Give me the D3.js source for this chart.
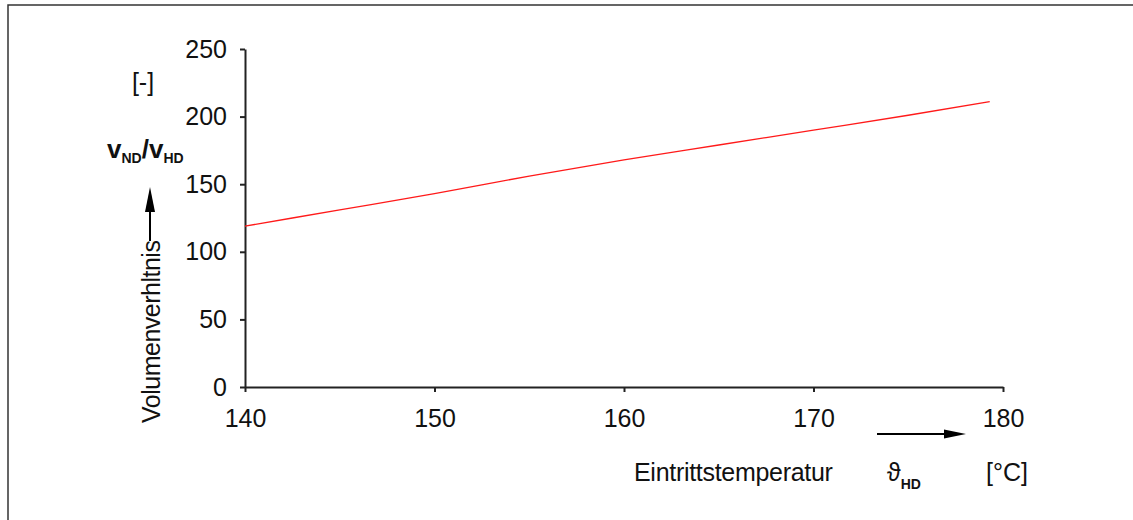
<!DOCTYPE html>
<html>
<head>
<meta charset="utf-8">
<script src="https://cdn.jsdelivr.net/npm/d3@7"></script>
<style>
  body { margin: 0; background: #fff; }
  svg text { font-family: "Liberation Sans", Arial, sans-serif; fill: #111; }
</style>
</head>
<body>
<script>
// data
const temps = [140, 145, 150, 155, 160, 165, 170, 175, 179.3]
const ratio = [119, 131, 143, 156, 168, 179, 190, 201, 211]
const xTicks = [140, 150, 160, 170, 180]
const yTicks = [0, 50, 100, 150, 200, 250]

const width = 1133
const height = 520

const svg = d3.select("body")
    .append("svg")
    .attr("width", width)
    .attr("height", height)

// frame (only top and left edges visible)
svg.append("path")
    .attr("d", "M8,520 V5 H1133")
    .attr("fill", "none")
    .attr("stroke", "#333")
    .attr("stroke-width", 1.5)

const x = d3.scaleLinear().domain([140, 180]).range([245, 1003])
const y = d3.scaleLinear().domain([0, 250]).range([387, 49])

const fs = 25

const xAxis = svg.append("g")
    .attr("transform", `translate(0, ${y(0)})`)
    .call(d3.axisBottom(x).tickValues(xTicks).tickSize(5).tickSizeOuter(0).tickPadding(17))
const yAxis = svg.append("g")
    .attr("transform", `translate(${x(140)}, 0)`)
    .call(d3.axisLeft(y).tickValues(yTicks).tickSize(5).tickSizeOuter(0).tickPadding(13))

for (const g of [xAxis, yAxis]) {
    g.selectAll("path, line").attr("stroke", "#222").attr("stroke-width", 2)
    g.selectAll("text")
        .attr("font-family", "Liberation Sans, Arial, sans-serif")
        .attr("font-size", fs)
        .attr("fill", "#111")
}

// the curve
svg.append("path")
    .datum(temps.map((t, i) => [t, ratio[i]]))
    .attr("fill", "none")
    .attr("stroke", "#ff1a1a")
    .attr("stroke-width", 1.3)
    .attr("d", d3.line().x(d => x(d[0])).y(d => y(d[1])).curve(d3.curveMonotoneX))

// y labels
svg.append("text")
    .attr("x", 143).attr("y", 91)
    .attr("text-anchor", "middle")
    .attr("font-size", fs)
    .text("[-]")

const vt = svg.append("text")
    .attr("x", 107).attr("y", 158)
    .attr("font-size", fs + 1)
    .attr("font-weight", "bold")
vt.append("tspan").text("v")
vt.append("tspan").attr("font-size", 14).attr("dy", 5).text("ND")
vt.append("tspan").attr("dy", -5).text("/v")
vt.append("tspan").attr("font-size", 14).attr("dy", 5).text("HD")

svg.append("text")
    .attr("transform", "translate(160, 423) rotate(-90)")
    .attr("font-size", fs)
    .attr("letter-spacing", -0.5)
    .text("Volumenverhltnis")

svg.append("line")
    .attr("x1", 150).attr("x2", 150).attr("y1", 241).attr("y2", 208)
    .attr("stroke", "#000").attr("stroke-width", 2)
svg.append("path")
    .attr("d", "M150,187 L145,212 L155,212 Z")
    .attr("fill", "#000")

// x labels
svg.append("text")
    .attr("x", 634).attr("y", 481)
    .attr("font-size", fs)
    .attr("letter-spacing", -0.3)
    .text("Eintrittstemperatur")

const th = svg.append("text")
    .attr("x", 887).attr("y", 481)
    .attr("font-size", fs)
th.append("tspan").text("ϑ")
th.append("tspan").attr("font-size", 14).attr("font-weight", "bold").attr("dy", 8).text("HD")

svg.append("text")
    .attr("x", 986).attr("y", 481)
    .attr("font-size", fs)
    .text("[°C]")

svg.append("line")
    .attr("x1", 877).attr("x2", 948).attr("y1", 434).attr("y2", 434)
    .attr("stroke", "#000").attr("stroke-width", 2)
svg.append("path")
    .attr("d", "M966,434 L944,429.5 L944,438.5 Z")
    .attr("fill", "#000")
</script>
</body>
</html>
